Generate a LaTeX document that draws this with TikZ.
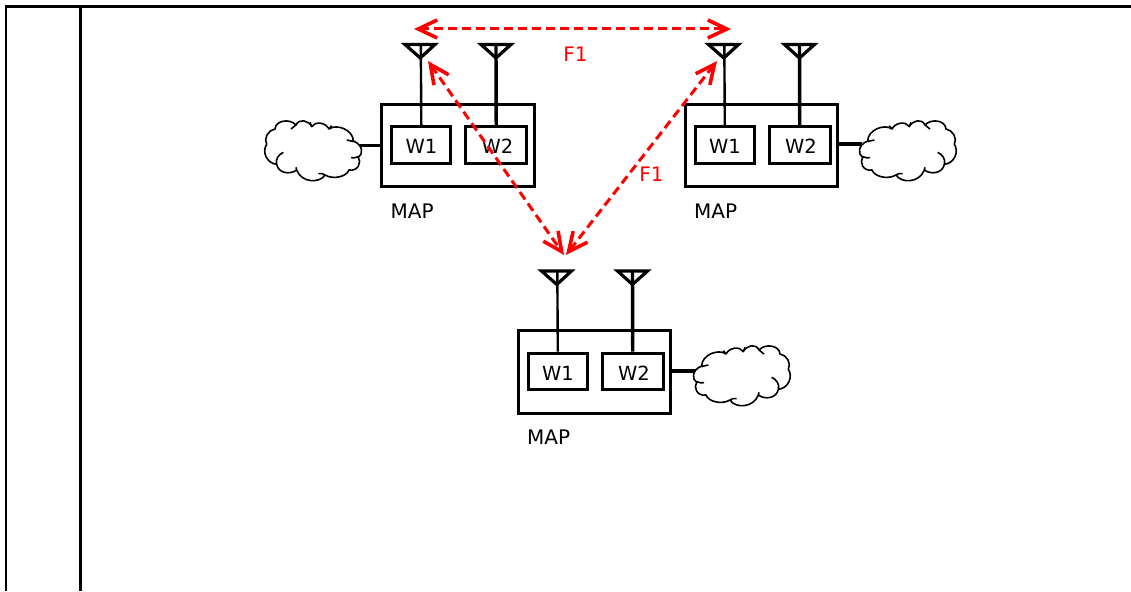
\documentclass[tikz,border=0pt]{standalone}
\usepackage{fontspec}
\setmainfont{DejaVu Sans}
\usetikzlibrary{arrows.meta}
\tikzset{
  every node/.style={font=\fontsize{20}{22}\selectfont},
  frameline/.style={line width=2.4pt,black},
  mapbox/.style={draw,line width=3pt,minimum width=152.6pt,minimum height=82.4pt,inner sep=0pt,line join=miter},
  wbox/.style={draw,line width=3pt,minimum height=36.6pt,inner sep=0pt},
  wtext/.style={anchor=base,inner sep=0pt,font=\fontsize{19.5}{22}\selectfont},
  antenna/.style={line width=3.2pt,line join=miter},
  stema/.style={line width=2.4pt},
  stemb/.style={line width=3.4pt},
  link/.style={line width=3.8pt},
  cloudline/.style={line width=1.6pt,fill=white,line join=round},
  radio/.style={red,line width=3pt,dash pattern=on 9pt off 5pt,
     {Straight Barb[length=19pt,width=18pt,line width=3.6pt]}-{Straight Barb[length=19pt,width=18pt,line width=3.6pt]}},
  radiolabel/.style={text=red,anchor=base,inner sep=0pt},
  maplabel/.style={anchor=base west,inner sep=0pt}
}
\newcommand{\cloudpath}{
  (35,78) .. controls (35,45) and (85,25) .. (108,42)
  .. controls (118,22) and (150,18) .. (160,35)
  .. controls (170,15) and (198,10) .. (207,30)
  .. controls (225,10) and (268,15) .. (270,42)
  .. controls (290,45) and (305,70) .. (295,88)
  .. controls (310,110) and (295,145) .. (265,148)
  .. controls (260,175) and (225,180) .. (205,165)
  .. controls (190,205) and (135,205) .. (120,180)
  .. controls (95,195) and (55,185) .. (48,165)
  .. controls (20,170) and (10,140) .. (20,127)
  .. controls (5,118) and (5,90) .. (35,78) -- cycle
  (55,75) .. controls (48,76) and (42,78) .. (35,80)
  (42,128) .. controls (35,130) and (28,128) .. (20,125)
  (108,42) .. controls (106,38) and (103,35) .. (100,32)
  (160,35) .. controls (161,30) and (163,26) .. (165,22)
  (207,30) .. controls (212,34) and (217,38) .. (222,42)
  (265,148) .. controls (270,132) and (258,118) .. (245,112)
  (120,180) .. controls (125,176) and (132,174) .. (140,176)
  (205,165) .. controls (205,162) and (206,160) .. (207,157)
}
\newcommand{\mapunit}[3]{%
  \begin{scope}[shift={(#2,#3)}]
    \node[mapbox] (#1box) at (458,145.5) {};
    \node[wbox,minimum width=59.3pt] (#1wa) at (421.3,145) {};
    \node[wbox,minimum width=61pt] (#1wb) at (496.2,145) {};
    \node[wtext] (#1ta) at (421.5,153.5) {W1};
    \node[wtext] (#1tb) at (497.5,153.5) {W2};
    \node[maplabel] (#1label) at (390.5,218) {MAP};
    \coordinate (#1aa) at (420.8,44);
    \coordinate (#1ab) at (496,44);
    \draw[stema] (#1aa) -- (#1wa.north);
    \draw[stemb] (#1ab) -- (#1wb.north);
    \draw[antenna] (405,44.5) -- (435,44.5) -- (420.3,58) -- cycle;
    \draw[antenna] (481,44.5) -- (511,44.5) -- (496,58) -- cycle;
  \end{scope}}
\begin{document}
\begin{tikzpicture}[x=1pt,y=-1pt]
  \useasboundingbox (0,0) rectangle (1131,591);
  \coordinate (fa) at (6,591);
  \coordinate (fb) at (6,6.5);
  \coordinate (fc) at (1131,6.5);
  \coordinate (fd) at (80.5,6.5);
  \coordinate (fe) at (80.5,591);
  \draw[frameline] (fa) -- (fb) -- (fc);
  \draw[frameline] (fd) -- (fe);

  \mapunit{a}{0}{0}
  \mapunit{b}{303.5}{0}
  \mapunit{c}{136.5}{226.5}

  % clouds
  \coordinate (ca) at (360,145.5);
  \coordinate (cb) at (862,144);
  \coordinate (cc) at (696,371);
  \draw[link] (abox.west |- ca) -- (ca);
  \draw[link] (bbox.east |- cb) -- (cb);
  \draw[link] (cbox.east |- cc) -- (cc);
  \begin{scope}[shift={(690,340)},x=0.3333pt,y=-0.3333pt]
    \draw[cloudline] \cloudpath;
  \end{scope}
  \begin{scope}[shift={(365,115)},x=-0.3333pt,y=-0.3333pt]
    \draw[cloudline] \cloudpath;
  \end{scope}
  \begin{scope}[shift={(856,115)},x=0.3333pt,y=-0.3333pt]
    \draw[cloudline] \cloudpath;
  \end{scope}

  % radio links
  \coordinate (r1) at (414,29);
  \coordinate (r2) at (731,29);
  \coordinate (r3) at (428,61);
  \coordinate (r4) at (717,61);
  \coordinate (r5) at (564,255);
  \coordinate (r6) at (566,255);
  \draw[radio] (r1) -- (r2);
  \draw[radio] (r3) -- (r5);
  \draw[radio] (r4) -- (r6);
  \node[radiolabel] (f1a) at (575.5,61.5) {F1};
  \node[radiolabel] (f1b) at (651.5,181) {F1};
\end{tikzpicture}
\end{document}
